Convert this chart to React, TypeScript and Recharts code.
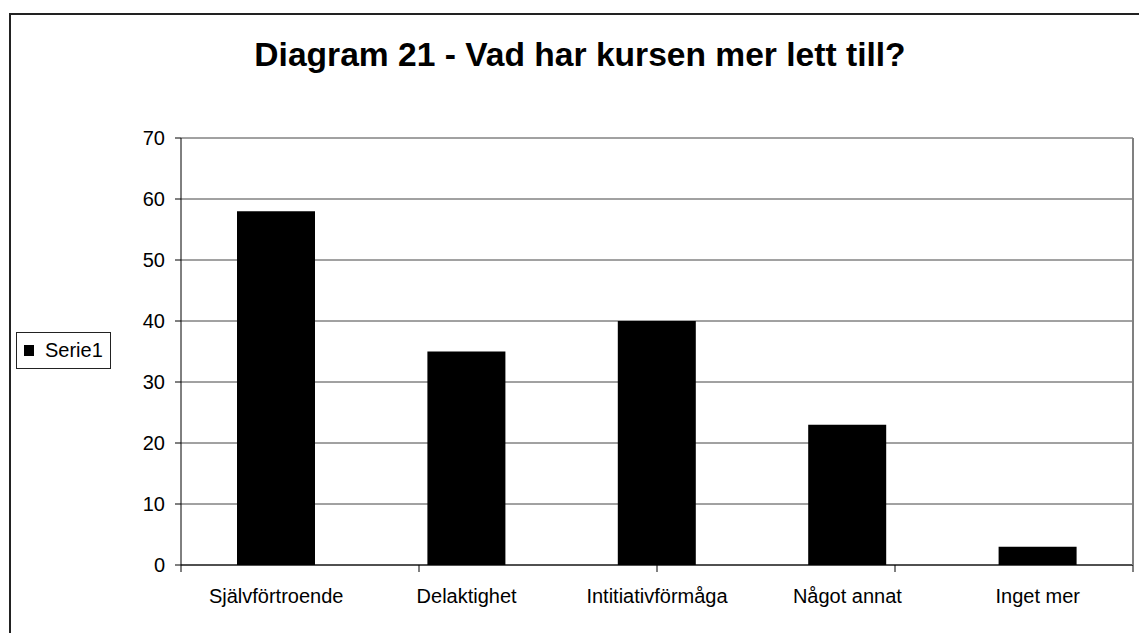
import { BarChart, Bar, XAxis, YAxis, CartesianGrid, Legend } from 'recharts';

const CATEGORIES = ['Självförtroende', 'Delaktighet', 'Intitiativförmåga', 'Något annat', 'Inget mer'];
const SERIE1 = [58, 35, 40, 23, 3];
const Y_TICKS = [0, 10, 20, 30, 40, 50, 60, 70];
const EDGE_TICKS = [0, 1, 2, 3, 4, 5];

const data = CATEGORIES.map((name, i) => ({ name, serie1: SERIE1[i] }));

const FONT = '"Liberation Sans", Arial, sans-serif';

// tick marks only, no label (Excel puts them between categories)
const NoLabel = () => <g />;

function LegendBox(props: any) {
  const item = props.payload && props.payload[0];
  return (
    <div
      style={{
        border: '1px solid #222',
        background: '#fff',
        width: 95,
        height: 37,
        display: 'flex',
        alignItems: 'center',
        boxSizing: 'border-box',
        fontFamily: FONT,
        fontSize: 20,
        color: '#000',
      }}
    >
      <span style={{ width: 10, height: 11, background: '#000', marginLeft: 7, marginRight: 11 }} />
      <span>{item ? item.value : 'Serie1'}</span>
    </div>
  );
}

export default function App() {
  return (
    <div
      style={{
        position: 'absolute',
        left: 0,
        top: 0,
        width: 1139,
        height: 633,
        overflow: 'hidden',
        background: '#fff',
        fontFamily: FONT,
      }}
    >
      {/* outer chart frame, runs off the right and bottom edges */}
      <div
        style={{
          position: 'absolute',
          left: 9,
          top: 13,
          width: 1200,
          height: 700,
          border: '2px solid #222',
        }}
      />
      <div
        style={{
          position: 'absolute',
          left: 0,
          top: 38,
          width: 1160,
          textAlign: 'center',
          fontSize: 33.6,
          lineHeight: '33px',
          fontWeight: 'bold',
          color: '#000',
        }}
      >
        Diagram 21 - Vad har kursen mer lett till?
      </div>
      <div style={{ position: 'absolute', left: 0, top: 0 }}>
        <BarChart
          width={1139}
          height={633}
          data={data}
          margin={{ top: 138, right: 5, bottom: 27, left: 121 }}
        >
          <CartesianGrid vertical={false} stroke="#444" yAxisId="left" xAxisId="axisName" />
          <XAxis
            xAxisId="axisEdge"
            type="number"
            domain={[0, 5]}
            ticks={EDGE_TICKS}
            interval={0}
            tick={NoLabel}
            height={1}
            tickSize={7}
            axisLine={{ stroke: '#000' }}
            tickLine={{ stroke: '#000' }}
            allowDataOverflow
          />
          <XAxis
            xAxisId="axisName"
            dataKey="name"
            height={40}
            interval={0}
            tickLine={false}
            axisLine={false}
            tickSize={0}
            tickMargin={23}
            tick={{ fontSize: 20, fill: '#000', fontFamily: FONT }}
          />
          <YAxis
            yAxisId="left"
            width={60}
            domain={[0, 70]}
            ticks={Y_TICKS}
            interval={0}
            tickSize={6}
            tickMargin={10}
            axisLine={{ stroke: '#000' }}
            tickLine={{ stroke: '#000' }}
            tick={{ fontSize: 20, fill: '#000', fontFamily: FONT }}
          />
          <YAxis
            yAxisId="right"
            orientation="right"
            width={1}
            domain={[0, 70]}
            ticks={Y_TICKS}
            tick={false}
            tickLine={false}
            axisLine={{ stroke: '#808080', strokeWidth: 2 }}
          />
          <Legend
            layout="horizontal"
            align="center"
            verticalAlign="middle"
            content={<LegendBox />}
            wrapperStyle={{ left: 16, top: 332, width: 95, height: 37 }}
          />
          <Bar
            dataKey="serie1"
            name="Serie1"
            xAxisId="axisName"
            yAxisId="left"
            fill="#000"
            barSize={78}
            isAnimationActive={false}
          />
        </BarChart>
      </div>
    </div>
  );
}
